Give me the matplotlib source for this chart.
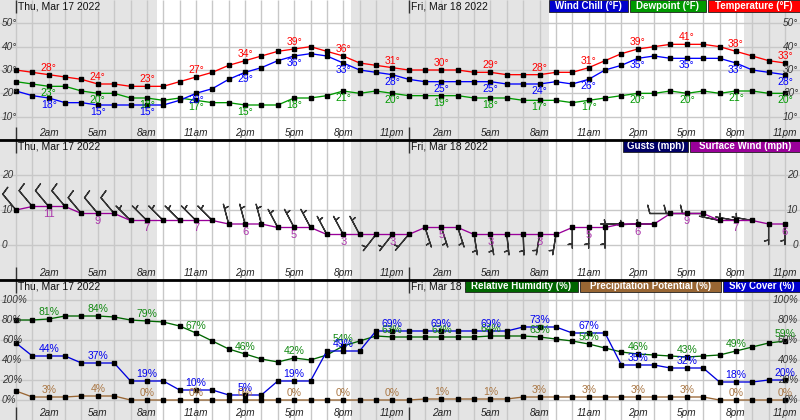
import matplotlib
matplotlib.use('Agg')
import matplotlib.pyplot as plt
import matplotlib.transforms as mtransforms
from matplotlib.patches import Rectangle
import numpy as np

plt.rcParams['font.family'] = ['Liberation Sans', 'DejaVu Sans']

# ---------------- data ----------------
hours = list(range(48))
hour_labels = ['2am', '5am', '8am', '11am', '2pm', '5pm', '8pm', '11pm'] * 2
label_hours = list(range(2, 48, 3))
dates = ['Thu, Mar 17 2022', 'Fri, Mar 18 2022']
date_hours = [0, 24]
night_spans = [(-1.0, 8.6), (20.5, 32.6), (44.5, 48.0)]

temperature = [30, 29, 28, 27, 26, 24, 24, 23, 23, 23, 25, 27, 29, 32, 34, 36, 38, 39, 40, 38, 36, 33, 32, 31,
               30, 30, 30, 30, 29, 29, 28, 28, 28, 29, 29, 31, 34, 37, 39, 40, 41, 41, 41, 40, 38, 36, 34, 33]
wind_chill = [21, 19, 18, 16, 16, 15, 15, 15, 15, 15, 17, 20, 22, 26, 29, 31, 34, 36, 37, 36, 33, 30, 29, 28,
              26, 25, 25, 25, 25, 25, 24, 24, 24, 25, 24, 26, 30, 32, 35, 36, 35, 35, 35, 35, 33, 30, 29, 28]
dewpoint = [25, 24, 23, 23, 21, 20, 20, 18, 18, 17, 18, 17, 16, 16, 15, 15, 15, 18, 18, 19, 21, 20, 21, 20,
            19, 19, 19, 19, 18, 18, 18, 17, 17, 17, 16, 17, 18, 19, 20, 20, 21, 20, 21, 20, 21, 21, 20, 20]

wind_speed = [10, 11, 11, 11, 9, 9, 9, 7, 7, 7, 7, 7, 7, 6, 6, 6, 5, 5, 5, 3, 3, 3, 3, 3,
              3, 5, 5, 5, 3, 3, 3, 3, 3, 3, 5, 5, 5, 6, 6, 6, 9, 9, 9, 7, 7, 7, 6, 6]
wind_dir = [320, 320, 320, 320, 320, 320, 320, 315, 315, 315, 315, 315, 315, 345, 345, 345, 332, 332, 332,
            332, 332, 332, 218, 218,
            220, 162, 162, 162, 171, 171, 174, 178, 189, 189, 180, 180, 180, 270, 268, 270, 270, 270, 270,
            282, 280, 280, 180, 180]

rel_humidity = [80, 80, 81, 84, 84, 84, 83, 80, 79, 78, 74, 67, 59, 51, 46, 41, 38, 42, 40, 45, 54, 59, 64, 63,
                63, 63, 63, 63, 63, 64, 64, 64, 63, 61, 59, 56, 52, 48, 46, 45, 44, 43, 44, 45, 49, 53, 57, 59]
sky_cover = [57, 44, 44, 44, 37, 37, 37, 19, 19, 19, 10, 10, 10, 5, 5, 5, 19, 19, 19, 49, 49, 49, 69, 69,
             69, 69, 69, 69, 69, 69, 69, 73, 73, 73, 67, 67, 67, 35, 35, 35, 32, 32, 32, 18, 18, 18, 20, 20]
precip = [9, 3, 3, 3, 4, 4, 4, 0, 0, 0, 0, 0, 0, 0, 0, 0, 0, 0, 0, 0, 0, 0, 0, 0,
          0, 1, 1, 1, 1, 1, 1, 3, 3, 3, 3, 3, 3, 3, 3, 3, 3, 3, 3, 0, 0, 0, 0, 0]

# ---------------- layout ----------------
W, H = 800, 420
PH = 140
XL, XR = -0.978, 47.917
NIGHT = '#e4e4e4'
GRID = '#c8c8c8'

fig = plt.figure(figsize=(8, 4.2), dpi=100)


def px_x(px):
    return px / W


def setup(top_px, ylim, ygrid, ylabels, legend):
    ax = fig.add_axes([0, 1 - (top_px + PH) / H, 1, PH / H])
    ax.set_xlim(XL, XR)
    ax.set_ylim(*ylim)
    ax.set_xticks([])
    ax.set_yticks([])
    for s in ax.spines.values():
        s.set_visible(False)
    for a, b in night_spans:
        ax.axvspan(a, b, color=NIGHT, lw=0, zorder=0)
    ax.vlines(hours, 0, 1, transform=ax.get_xaxis_transform(), color=GRID, lw=1, zorder=1)
    ax.hlines(ygrid, 0, 1, transform=ax.get_yaxis_transform(), color=GRID, lw=1, zorder=1)
    # day separators in top and bottom strips
    strip = 13 / PH
    ax.vlines(date_hours, 1 - strip, 1, transform=ax.get_xaxis_transform(), color='#333333', lw=1, zorder=2)
    ax.vlines(date_hours, 0, strip, transform=ax.get_xaxis_transform(), color='#333333', lw=1, zorder=2)
    bt = mtransforms.blended_transform_factory(ax.transData, ax.transAxes)
    for h, d in zip(date_hours, dates):
        ax.text(h + 0.13, 1 - 6.5 / PH, d, transform=bt, ha='left', va='center', fontsize=7.5,
                color='#111111', zorder=5)
    for h, lab in zip(label_hours, hour_labels):
        ax.text(h, 6.5 / PH, lab, transform=bt, ha='center', va='center', fontsize=7.2,
                style='italic', color='#222222', zorder=5)
    yt = ax.get_yaxis_transform()
    for val, lab in zip(ygrid, ylabels):
        ax.text(px_x(2), val, lab, transform=yt, ha='left', va='center', fontsize=7.2,
                style='italic', color='#333333', zorder=5)
        ax.text(px_x(798), val, lab, transform=yt, ha='right', va='center', fontsize=7.2,
                style='italic', color='#333333', zorder=5)
    # legend boxes
    for (x0, x1, txt, col) in legend:
        r = Rectangle((px_x(x0), 1 - 12 / PH), px_x(x1 - x0), 12 / PH, transform=ax.transAxes,
                      facecolor=col, edgecolor='#222222', lw=0.6, zorder=8, clip_on=False)
        ax.add_patch(r)
        ax.text(px_x((x0 + x1) / 2), 1 - 6 / PH, txt, transform=ax.transAxes, ha='center', va='center',
                fontsize=7, fontweight='bold', color='white', zorder=9)
    if top_px > 0:
        ax.plot([0, 1], [1, 1], transform=ax.transAxes, color='black', lw=2, zorder=10, clip_on=False)
    return ax


def series(ax, y, color, lw=0.95):
    ax.plot(hours, y, color=color, lw=lw, marker='s', ms=2.8, mfc='black', mec='black', zorder=4)


def labels(ax, y, color, fmt, dy, fs=7.5):
    for h in label_hours:
        ax.annotate(fmt.format(y[h]), (h, y[h]), xytext=(0, dy), textcoords='offset points',
                    ha='center', va='center', fontsize=fs, color=color, zorder=6)


# ---- panel 1: temperatures ----
ax1 = setup(0, (0, 60), [10, 20, 30, 40, 50], ['10°', '20°', '30°', '40°', '50°'],
            [(549, 628, 'Wind Chill (°F)', '#0000cc'),
             (630, 706, 'Dewpoint (°F)', '#009900'),
             (708, 800, 'Temperature (°F)', '#ff0000')])
series(ax1, dewpoint, '#009900')
series(ax1, wind_chill, '#0000ff')
series(ax1, temperature, '#ff0000')
labels(ax1, dewpoint, '#009900', '{}°', -5)
labels(ax1, wind_chill, '#0000ff', '{}°', -5)
labels(ax1, temperature, '#ff0000', '{}°', 5)

# ---- panel 2: wind ----
ax2 = setup(140, (-10, 30), [0, 10, 20], ['0', '10', '20'],
            [(623, 688, 'Gusts (mph)', '#000066'),
             (690, 800, 'Surface Wind (mph)', '#990099')])
spd_kt = np.array(wind_speed) * 0.868976
rad = np.deg2rad(wind_dir)
u = -spd_kt * np.sin(rad)
v = -spd_kt * np.cos(rad)
ax2.barbs(hours, wind_speed, u, v, length=5.45, color='#333333', lw=0.95, zorder=3,
          sizes=dict(spacing=0.15, height=0.4, width=0.2))
series(ax2, wind_speed, '#990099')
labels(ax2, wind_speed, '#aa33aa', '{}', -5.5, fs=8)

# ---- panel 3: humidity, precip, sky ----
ax3 = setup(280, (-20, 120), [0, 20, 40, 60, 80, 100], ['0%', '20%', '40%', '60%', '80%', '100%'],
            [(465, 578, 'Relative Humidity (%)', '#006600'),
             (580, 721, 'Precipitation Potential (%)', '#996633'),
             (723, 800, 'Sky Cover (%)', '#0000cc')])
series(ax3, precip, '#996633')
series(ax3, rel_humidity, '#006600')
series(ax3, sky_cover, '#0000dd')
labels(ax3, precip, '#aa7744', '{}%', 5)
labels(ax3, rel_humidity, '#118811', '{}%', 5)
labels(ax3, sky_cover, '#0000ee', '{}%', 5)

fig.savefig('out.png', dpi=100)
